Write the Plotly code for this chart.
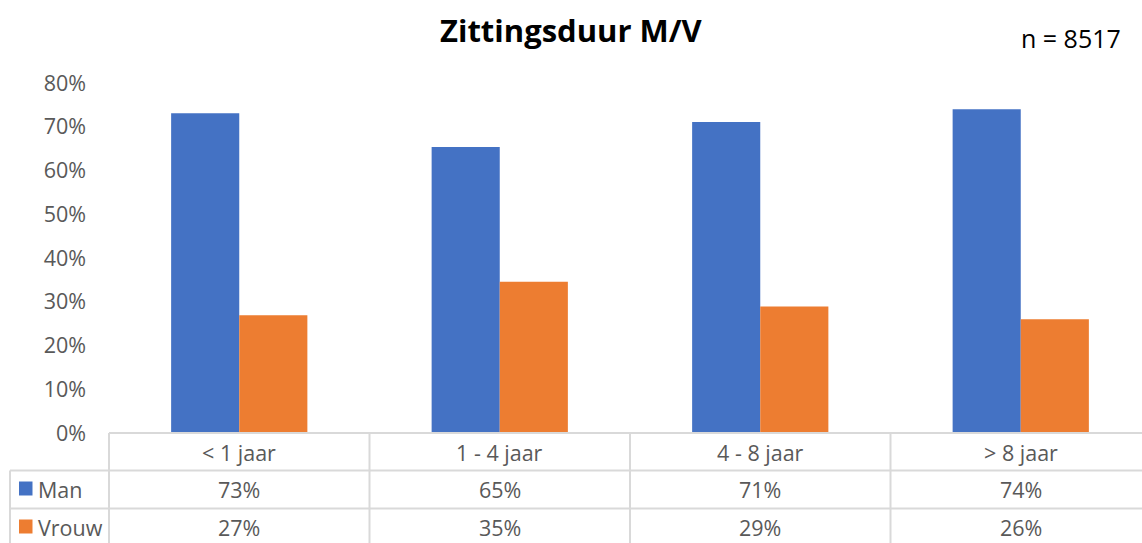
import plotly.graph_objects as go

categories = ["< 1 jaar", "1 - 4 jaar", "4 - 8 jaar", "> 8 jaar"]
man = [73.1, 65.4, 71.1, 74.0]
vrouw = [26.9, 34.6, 28.9, 26.0]
series_names = ["Man", "Vrouw"]
colors = ["#4472C4", "#ED7D31"]
y_ticks = [0, 10, 20, 30, 40, 50, 60, 70, 80]
y_tick_labels = [f"{t}%" for t in y_ticks]
title = "Zittingsduur M/V"
n_label = "n = 8517"

W, H = 1142, 543
ML, MR, MT, MB = 109, 0, 83, 110
pw = W - ML - MR
ph = H - MT - MB
cat_px = 260.5
xmin = -0.5
xmax = xmin + pw / cat_px

FONT = "Open Sans"
GRAY = "#595959"
LINE = "#D9D9D9"
FS = 21.5

def px_x(px):
    return (px - ML) / pw

def px_y(py):
    return (H - MB - py) / ph

def cat_x(v):
    return (v - xmin) / (xmax - xmin)

fig = go.Figure()
x_idx = list(range(len(categories)))
for name, vals, col in zip(series_names, [man, vrouw], colors):
    fig.add_trace(go.Bar(x=x_idx, y=vals, name=name, marker_color=col,
                         marker_line_width=0))

shapes = []
line = dict(color=LINE, width=2)
shapes.append(dict(type="line", xref="paper", yref="paper", x0=px_x(109), x1=px_x(1142),
                   y0=px_y(433), y1=px_y(433), line=line))
for yy in [470.5, 508.5]:
    shapes.append(dict(type="line", xref="paper", yref="paper", x0=px_x(10), x1=px_x(1142),
                       y0=px_y(yy), y1=px_y(yy), line=line))
shapes.append(dict(type="line", xref="paper", yref="paper", x0=px_x(10), x1=px_x(10),
                   y0=px_y(470.5), y1=px_y(545), line=line))
for b in range(len(categories)):
    xb = cat_x(b - 0.5)
    shapes.append(dict(type="line", xref="paper", yref="paper", x0=xb, x1=xb,
                       y0=px_y(433), y1=px_y(545), line=line))
for i, col in enumerate(colors):
    cy = [488.5, 526.5][i]
    shapes.append(dict(type="rect", xref="paper", yref="paper", x0=px_x(19), x1=px_x(32.5),
                       y0=px_y(cy + 7), y1=px_y(cy - 7), fillcolor=col, line_width=0))

ann = []
row_y = [452, 489, 527]
tf = dict(family=FONT, size=FS, color=GRAY)
for i, c in enumerate(categories):
    ann.append(dict(x=cat_x(i), y=px_y(row_y[0]), xref="paper", yref="paper", text=c,
                    xanchor="center", yanchor="middle", showarrow=False, font=tf))
for r, (name, vals) in enumerate(zip(series_names, [man, vrouw])):
    ann.append(dict(x=px_x(36), y=px_y(row_y[r + 1]), xref="paper", yref="paper", text=name,
                    xanchor="left", yanchor="middle", showarrow=False, font=tf))
    for i, v in enumerate(vals):
        ann.append(dict(x=cat_x(i), y=px_y(row_y[r + 1]), xref="paper", yref="paper",
                        text=f"{round(v)}%", xanchor="center", yanchor="middle",
                        showarrow=False, font=tf))
ann.append(dict(x=px_x(571), y=px_y(30), xref="paper", yref="paper", text=f"<b>{title}</b>",
                xanchor="center", yanchor="middle", showarrow=False,
                font=dict(family=FONT, size=31, color="#000000")))
ann.append(dict(x=px_x(1123), y=px_y(38), xref="paper", yref="paper", text=n_label,
                xanchor="right", yanchor="middle", showarrow=False,
                font=dict(family=FONT, size=25, color="#000000")))

fig.update_layout(
    width=W, height=H,
    margin=dict(l=ML, r=MR, t=MT, b=MB),
    paper_bgcolor="white", plot_bgcolor="white",
    showlegend=False,
    barmode="group", bargap=0.477, bargroupgap=0,
    shapes=shapes, annotations=ann,
    xaxis=dict(range=[xmin, xmax], showticklabels=False, showgrid=False, zeroline=False,
               showline=False, ticks=""),
    yaxis=dict(range=[0, 80], tickmode="array", tickvals=y_ticks, ticktext=y_tick_labels,
               showgrid=False, zeroline=False, showline=False, ticks="",
               ticklabelstandoff=22, tickfont=tf),
)
fig.write_html("out.html", config={"displayModeBar": False},
               post_script="document.body.style.margin='0';")
